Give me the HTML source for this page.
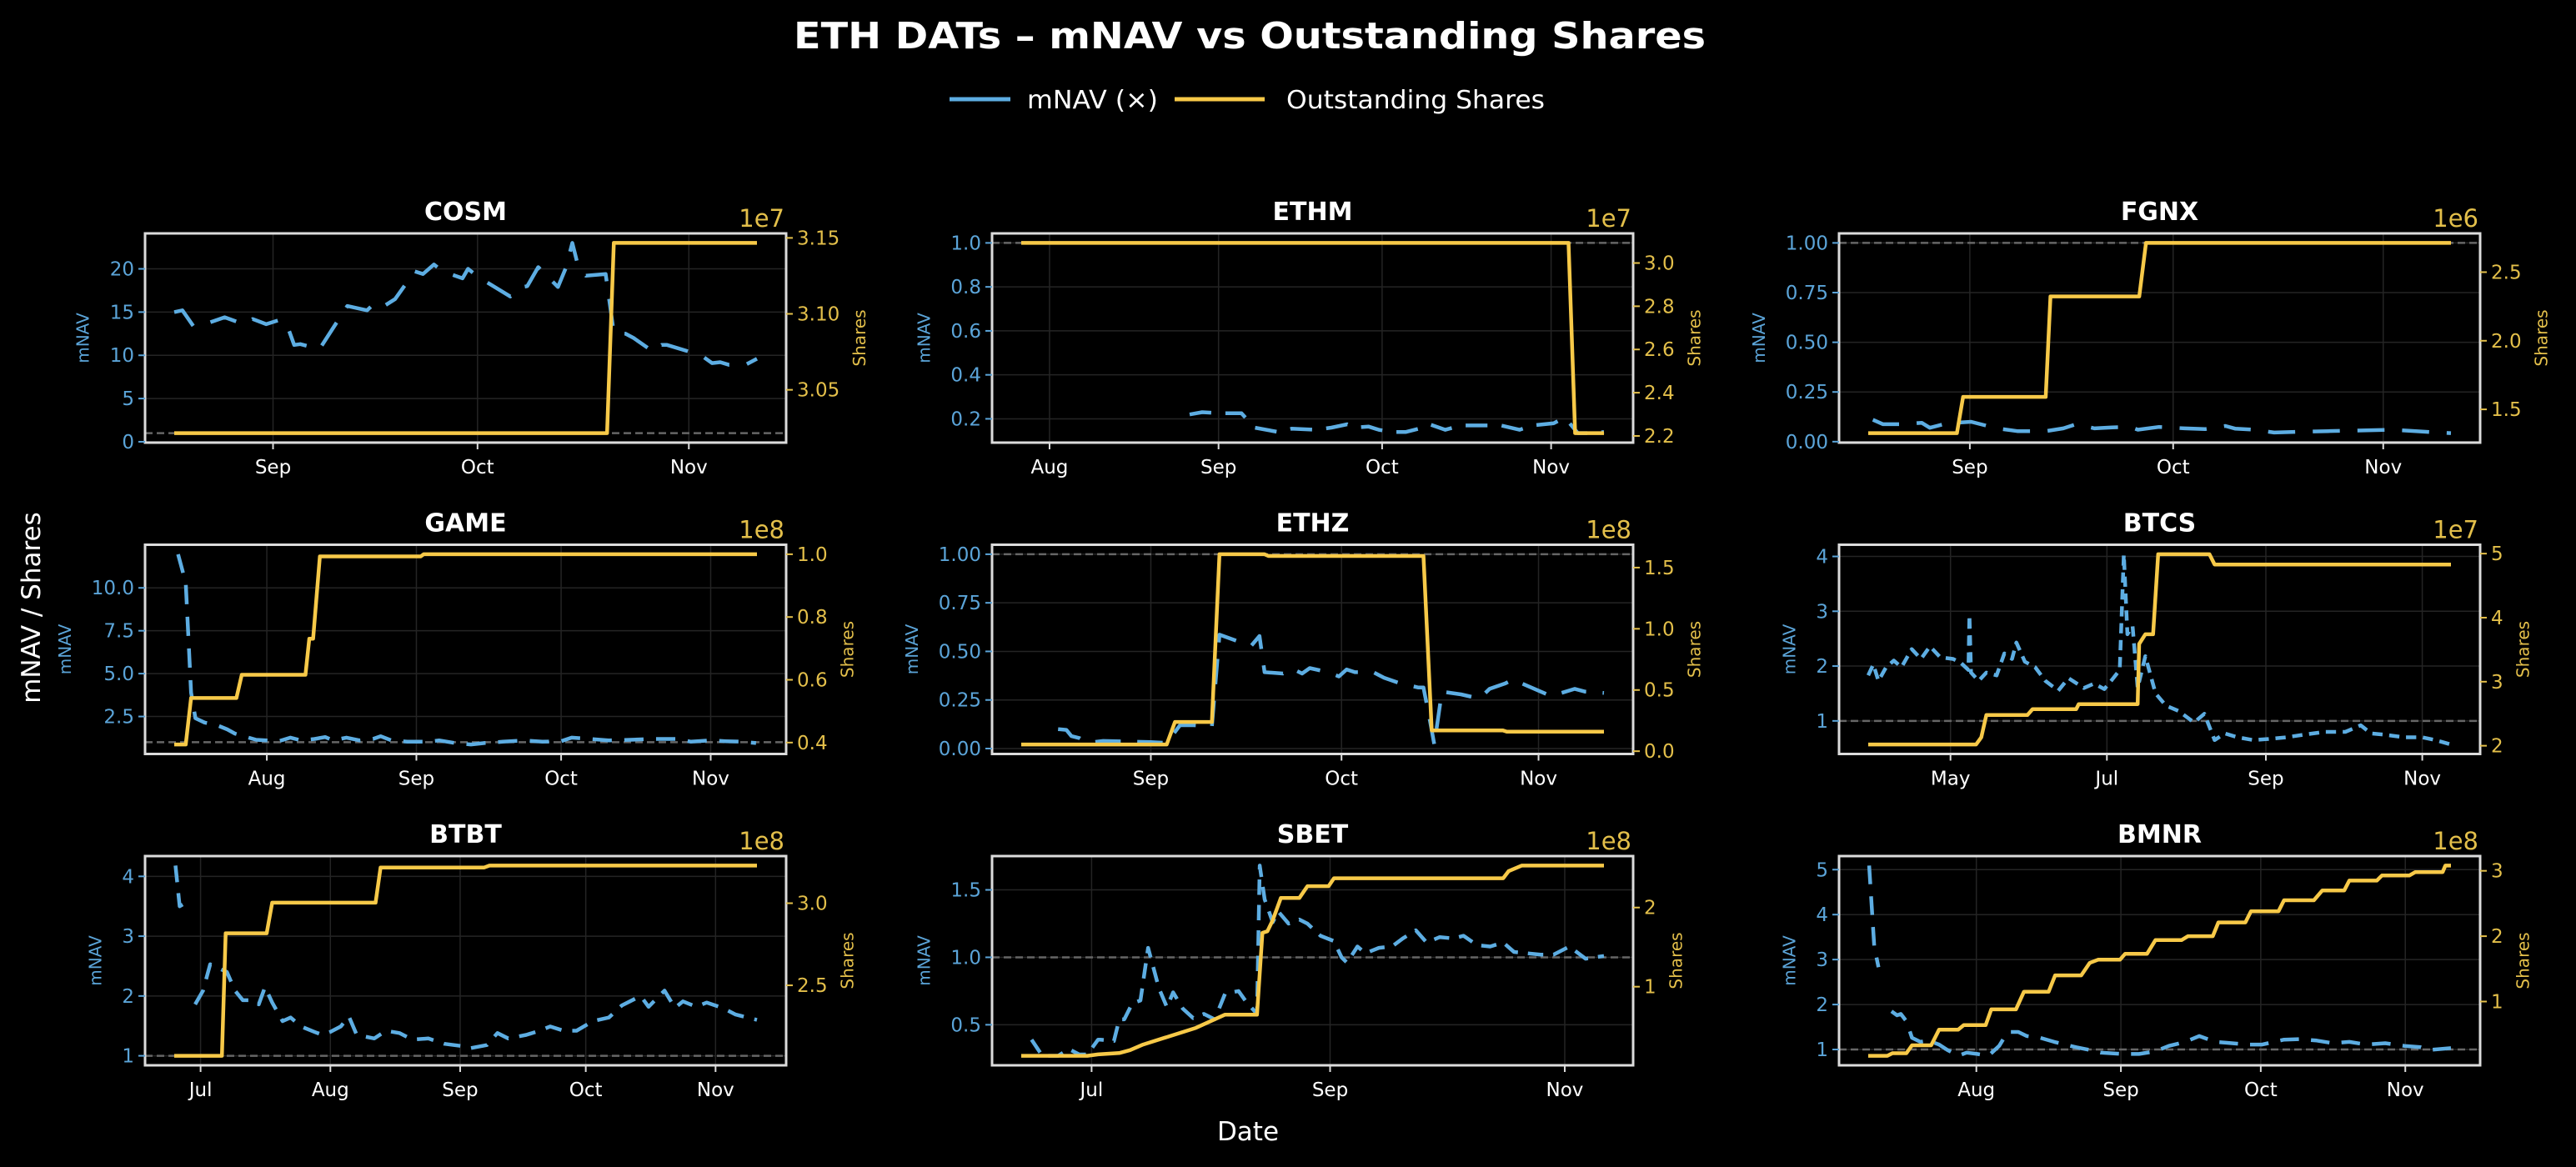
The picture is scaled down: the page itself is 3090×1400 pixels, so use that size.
<!DOCTYPE html>
<html><head><meta charset="utf-8"><title>ETH DATs – mNAV vs Outstanding Shares</title>
<style>
html,body{margin:0;padding:0;background:#000;}
svg{display:block;font-family:"DejaVu Sans","Liberation Sans",sans-serif;}
</style></head>
<body>
<svg id="chart" width="3090" height="1400" viewBox="0 0 3090 1400" xmlns="http://www.w3.org/2000/svg">
<rect x="0" y="0" width="3090" height="1400" fill="#000"/>
<text x="1499" y="58" fill="#fff" font-size="44" font-weight="bold" text-anchor="middle" textLength="1094" lengthAdjust="spacingAndGlyphs">ETH DATs – mNAV vs Outstanding Shares</text>
<g>
<line x1="1139" y1="119" x2="1212" y2="119" stroke="#5DADE2" stroke-width="5"/>
<text x="1232" y="130" fill="#fff" font-size="30" textLength="157" lengthAdjust="spacingAndGlyphs">mNAV (×)</text>
<line x1="1409" y1="119" x2="1517" y2="119" stroke="#F7C948" stroke-width="5"/>
<text x="1543" y="130" fill="#fff" font-size="30" textLength="310" lengthAdjust="spacingAndGlyphs">Outstanding Shares</text>
</g>
<text x="0" y="0" transform="translate(48,729) rotate(-90)" fill="#fff" font-size="31" text-anchor="middle">mNAV / Shares</text>
<text x="1497" y="1368" fill="#fff" font-size="31" text-anchor="middle">Date</text>
<g id="panels"></g>
</svg>
<script>
// ---- data (x = day of year 2025; null = gap in data) ----
const cosmDates=[229.5,230.7,232.3,234,236.9,239.7,241,243,245,246,247.1,248,250.8,254.9,257.8,259,260.3,261.9,264.8,266,267.6,268.9,271.8,272.6,274.2,275.9,278.8,280,281.3,282.9,285.8,287,287.9,288.7,289.9,292.8,294,295.7,296.9,299.8,301,301.8,306.8,308.4,309.6,310.9,313.3,315];
const cosmMnav=[15.0,15.2,13.4,13.6,14.4,13.6,14.2,13.6,14.1,13.6,11.2,11.3,10.7,15.7,15.2,16.1,15.7,16.5,19.7,19.4,20.5,19.7,18.9,20,19,18.2,16.8,17.8,18,20.2,17.9,20.2,23,20.5,19.2,19.4,12.6,12.5,12,10.4,11.2,11.2,10,9.1,9.2,8.9,8.9,9.6];
const cosmShareDates=[229.5,293,294,315];
const cosmShares=[3.0215,3.0215,3.1467,3.1467];

const ethmDates=[238.7,241,244.3,248.2,250.6,255,257.4,261.8,264.7,267.6,269,271.5,273.4,275.9,278.3,280.7,282.7,285.6,288.5,292.4,295.8,299.2,301.6,305.5,307,308.4,309.9,312.4,314.7];
const ethmMnav=[0.22,0.23,0.225,0.225,0.16,0.14,0.155,0.15,0.16,0.175,0.16,0.165,0.15,0.14,0.14,0.155,0.175,0.15,0.17,0.17,0.17,0.15,0.17,0.18,0.2,0.18,0.135,0.135,0.14];
const ethmShareDates=[207.8,308.2,309.4,314.7];
const ethmShares=[3.093,3.093,2.213,2.213];

const fgnxDates=[229.7,231.2,233.9,236.9,238.1,240.7,244.2,248,251,255.2,257.8,259.7,262.4,265,267.7,268.8,271.9,275.7,278.7,281.7,283.2,285.9,288.9,292.7,296.9,301.1,306.4,309.8,312.9,315];
const fgnxMnav=[0.11,0.088,0.088,0.095,0.07,0.093,0.1,0.067,0.053,0.053,0.067,0.088,0.067,0.072,0.074,0.06,0.074,0.067,0.063,0.079,0.065,0.06,0.046,0.05,0.053,0.056,0.06,0.053,0.046,0.043];
const fgnxShareDates=[229,242.1,243,255.2,255.9,269,270,315];
const fgnxShares=[1.327,1.327,1.591,1.591,2.323,2.323,2.713,2.713];

const gameDates=[194.6,196.2,197.3,198.2,200.1,202.6,204.8,206.4,209.2,210.8,213,215.7,217.9,220.1,222.9,225.1,226.7,229.5,232.2,235,236.6,238.8,242.1,246.5,248.7,252,255.3,258.1,261.9,266.3,270.1,274,276.2,280,283.9,288.3,292.7,298.2,300.9,304.8,308.1,311.4,314.4];
const gameMnav=[11.96,10.3,3.9,2.4,2.15,2.0,1.75,1.5,1.27,1.14,1.11,1.08,1.27,1.11,1.19,1.3,1.11,1.27,1.11,1.19,1.35,1.11,1.03,1.03,1.11,0.95,0.87,0.95,1.03,1.11,1.03,1.06,1.27,1.19,1.11,1.14,1.19,1.19,1.03,1.11,1.06,1.03,0.95];
const gameShareDates=[193.8,196.2,197.3,206.7,207.8,221,221.8,222.6,224,244.9,245.5,314.6];
const gameShares=[0.394,0.394,0.542,0.542,0.616,0.616,0.731,0.731,0.993,0.993,1.0,1.0];

const ethzDates=[229.4,230.7,231.5,232.8,234,236.5,240.7,244,246.5,248.6,250.7,253.6,254.8,257.3,259.8,261.1,261.9,264.8,266.1,267.8,269,271.9,273.6,274.8,276.1,279,280.7,283.2,286.1,286.9,287.8,288.6,289.8,292.8,295.7,297.3,299.8,301.1,302.3,306.9,308.6,310.7,312.3,315.3];
const ethzMnav=[0.1,0.096,0.064,0.053,0.029,0.039,0.036,0.033,0.029,0.12,0.12,0.114,0.586,0.557,0.529,0.579,0.393,0.386,0.414,0.386,0.414,0.393,0.371,0.407,0.393,0.393,0.364,0.336,0.314,0.314,0.164,0.021,0.293,0.279,0.257,0.307,0.336,0.357,0.336,0.271,0.286,0.307,0.293,0.286];
const ethzShareDates=[223.6,246.5,247.8,253.6,254.8,261.9,262.5,286.9,288.2,299.4,300,315.3];
const ethzShares=[0.055,0.055,0.239,0.239,1.609,1.609,1.595,1.595,0.17,0.17,0.159,0.159];

const btcsDates=[88.9,90.9,92.9,95.9,98.9,101.9,105.9,109.5,113,117,122,125,128,128.4,129,132,135,139,142,145,146.7,150,154,158,163,167,173,177,181,184,187,188.6,190,192,194,197,201,205,210,216,220,224,228,233,239,245,252,259,267,275,281,285,290,298,305,310,316.2];
const btcsMnav=[1.83,2.03,1.73,1.98,2.1,1.98,2.31,2.13,2.36,2.16,2.13,2.06,1.93,2.93,1.88,1.73,1.88,1.83,2.23,2.13,2.43,2.08,1.98,1.73,1.55,1.78,1.6,1.68,1.58,1.75,1.93,4.04,2.58,2.73,1.6,2.18,1.5,1.28,1.18,0.97,1.13,0.65,0.77,0.7,0.65,0.67,0.7,0.75,0.8,0.8,0.92,0.77,0.75,0.7,0.7,0.65,0.57];
const btcsShareDates=[88.9,131,133,135,151,153,170,171,194,194.6,197,200,202,222,224,316.2];
const btcsShares=[2.02,2.02,2.13,2.48,2.48,2.57,2.57,2.65,2.65,3.59,3.74,3.74,4.99,4.99,4.83,4.83];

const btbtDates=[176,177,178.2,179,180.7,182.6,184.3,188.3,190.2,192.1,194.7,195.9,197.4,199.1,201.6,203.5,206,209.2,211.1,213,215.5,217.4,219.3,223.5,226.3,229.5,232.6,236.4,240.2,244.7,246.6,250.4,252.9,255.5,259.8,263,265.5,268.7,271.8,275.7,279.5,282.6,287.1,289,292.8,295.3,297.2,300.4,302.9,306.7,309.8,314.9];
const btbtMnav=[4.18,3.5,3.55,null,1.86,2.09,2.53,2.4,2.09,1.93,1.93,1.86,2.15,1.89,1.58,1.64,1.49,1.4,1.35,1.4,1.49,1.66,1.35,1.29,1.42,1.38,1.27,1.29,1.2,1.16,1.13,1.18,1.38,1.29,1.35,1.42,1.49,1.42,1.42,1.58,1.64,1.84,2.0,1.82,2.09,1.8,1.91,1.82,1.89,1.8,1.69,1.6];
const btbtShareDates=[175.7,187.1,188,197.8,199.1,223.8,225,249.7,251,314.9];
const btbtShares=[2.071,2.071,2.817,2.817,3.003,3.003,3.217,3.217,3.229,3.229];

const sbetDates=[166.4,169.2,173.3,176.1,178.8,180.9,183.7,184.3,187.8,189.2,190.5,192.6,194.7,196.7,199.5,201.6,203.2,205.7,208.4,211.2,214,216.7,220.2,222.2,225,225.7,227,229.1,230.5,233.2,236,238.1,241.5,245,247,248.4,251.1,253.2,256.7,260.1,262.9,266.3,269.1,272.5,276,278.7,282.2,285.6,289,291.8,295.2,298.7,302.1,306.2,310.4,315.2];
const sbetMnav=[0.39,0.27,0.27,0.32,0.28,0.28,0.39,0.39,0.38,0.54,0.54,0.66,0.68,1.07,0.77,0.63,0.74,0.62,0.55,0.58,0.54,0.73,0.75,0.67,0.58,1.68,1.43,1.26,1.34,1.25,1.28,1.25,1.16,1.12,1.0,0.96,1.08,1.03,1.07,1.08,1.14,1.2,1.11,1.15,1.14,1.16,1.09,1.08,1.11,1.04,1.03,1.02,1.02,1.08,0.99,1.01];
const sbetShareDates=[163.7,180.9,183.7,189.2,192,195.4,201.6,209.1,216.7,225,226.4,227.7,229.1,231.2,236,238.1,243.6,245,289,290.4,293.8,315.2];
const sbetShares=[0.127,0.127,0.145,0.162,0.198,0.269,0.364,0.48,0.647,0.647,1.68,1.7,1.84,2.12,2.12,2.27,2.27,2.37,2.37,2.46,2.53,2.53];

const bmnrDates=[190,191.1,192,193,194.8,196,196.8,198,199.2,201,202.7,205,206.8,209.1,210.9,213.2,215.6,217.9,219.7,222,223.8,226.7,229.7,232,234.4,237.3,239.6,244.4,247.9,251.4,254.3,257.8,260.8,264.3,267.8,271.3,274.3,279,282.5,286,289.5,293,296.6,300.7,304.8,308.3,310.1,314.8];
const bmnrMnav=[5.09,3.3,2.83,null,1.85,1.76,1.79,1.63,1.26,1.17,1.2,1.11,0.99,0.86,0.93,0.9,0.86,1.08,1.39,1.39,1.3,1.26,1.17,1.11,1.05,0.99,0.93,0.9,0.9,0.96,1.08,1.17,1.3,1.17,1.14,1.11,1.11,1.22,1.23,1.2,1.14,1.17,1.11,1.14,1.08,1.05,0.99,1.03];
const bmnrShareDates=[189.8,193.9,195,198,199.2,203.3,205,209.1,210.3,215,216.2,221.5,223.2,228.5,229.9,235.5,237.3,239.1,243.8,244.9,249.6,251.4,257,258.4,263.7,264.9,270.7,271.9,277.8,279,285.4,287.2,291.9,293,298.9,300,305.9,307.1,313,313.6,314.8];
const bmnrShares=[0.17,0.17,0.21,0.21,0.33,0.33,0.57,0.57,0.64,0.64,0.88,0.88,1.15,1.15,1.40,1.40,1.59,1.64,1.64,1.73,1.73,1.94,1.94,2.0,2.0,2.21,2.21,2.38,2.38,2.55,2.55,2.70,2.70,2.85,2.85,2.93,2.93,2.98,2.98,3.08,3.08];

// ---- ticks ----
const monthDays={Apr:91,May:121,Jun:152,Jul:182,Aug:213,Sep:244,Oct:274,Nov:305};
const cosmXTicks=['Sep','Oct','Nov'], cosmYTicks=[0,5,10,15,20], cosmYLabels=['0','5','10','15','20'], cosmRTicks=[3.05,3.10,3.15], cosmRLabels=['3.05','3.10','3.15'];
const ethmXTicks=['Aug','Sep','Oct','Nov'], ethmYTicks=[0.2,0.4,0.6,0.8,1.0], ethmYLabels=['0.2','0.4','0.6','0.8','1.0'], ethmRTicks=[2.2,2.4,2.6,2.8,3.0], ethmRLabels=['2.2','2.4','2.6','2.8','3.0'];
const fgnxXTicks=['Sep','Oct','Nov'], fgnxYTicks=[0,0.25,0.5,0.75,1.0], fgnxYLabels=['0.00','0.25','0.50','0.75','1.00'], fgnxRTicks=[1.5,2.0,2.5], fgnxRLabels=['1.5','2.0','2.5'];
const gameXTicks=['Aug','Sep','Oct','Nov'], gameYTicks=[2.5,5,7.5,10], gameYLabels=['2.5','5.0','7.5','10.0'], gameRTicks=[0.4,0.6,0.8,1.0], gameRLabels=['0.4','0.6','0.8','1.0'];
const ethzXTicks=['Sep','Oct','Nov'], ethzYTicks=[0,0.25,0.5,0.75,1.0], ethzYLabels=['0.00','0.25','0.50','0.75','1.00'], ethzRTicks=[0,0.5,1.0,1.5], ethzRLabels=['0.0','0.5','1.0','1.5'];
const btcsXTicks=['May','Jul','Sep','Nov'], btcsYTicks=[1,2,3,4], btcsYLabels=['1','2','3','4'], btcsRTicks=[2,3,4,5], btcsRLabels=['2','3','4','5'];
const btbtXTicks=['Jul','Aug','Sep','Oct','Nov'], btbtYTicks=[1,2,3,4], btbtYLabels=['1','2','3','4'], btbtRTicks=[2.5,3.0], btbtRLabels=['2.5','3.0'];
const sbetXTicks=['Jul','Sep','Nov'], sbetYTicks=[0.5,1.0,1.5], sbetYLabels=['0.5','1.0','1.5'], sbetRTicks=[1,2], sbetRLabels=['1','2'];
const bmnrXTicks=['Aug','Sep','Oct','Nov'], bmnrYTicks=[1,2,3,4,5], bmnrYLabels=['1','2','3','4','5'], bmnrRTicks=[1,2,3], bmnrRLabels=['1','2','3'];

const panels=[
 {name:'COSM',d:cosmDates,m:cosmMnav,sd:cosmShareDates,s:cosmShares,xt:cosmXTicks,yt:cosmYTicks,yl:cosmYLabels,rt:cosmRTicks,rl:cosmRLabels,off:'1e7'},
 {name:'ETHM',d:ethmDates,m:ethmMnav,sd:ethmShareDates,s:ethmShares,xt:ethmXTicks,yt:ethmYTicks,yl:ethmYLabels,rt:ethmRTicks,rl:ethmRLabels,off:'1e7'},
 {name:'FGNX',d:fgnxDates,m:fgnxMnav,sd:fgnxShareDates,s:fgnxShares,xt:fgnxXTicks,yt:fgnxYTicks,yl:fgnxYLabels,rt:fgnxRTicks,rl:fgnxRLabels,off:'1e6'},
 {name:'GAME',d:gameDates,m:gameMnav,sd:gameShareDates,s:gameShares,xt:gameXTicks,yt:gameYTicks,yl:gameYLabels,rt:gameRTicks,rl:gameRLabels,off:'1e8'},
 {name:'ETHZ',d:ethzDates,m:ethzMnav,sd:ethzShareDates,s:ethzShares,xt:ethzXTicks,yt:ethzYTicks,yl:ethzYLabels,rt:ethzRTicks,rl:ethzRLabels,off:'1e8'},
 {name:'BTCS',d:btcsDates,m:btcsMnav,sd:btcsShareDates,s:btcsShares,xt:btcsXTicks,yt:btcsYTicks,yl:btcsYLabels,rt:btcsRTicks,rl:btcsRLabels,off:'1e7'},
 {name:'BTBT',d:btbtDates,m:btbtMnav,sd:btbtShareDates,s:btbtShares,xt:btbtXTicks,yt:btbtYTicks,yl:btbtYLabels,rt:btbtRTicks,rl:btbtRLabels,off:'1e8'},
 {name:'SBET',d:sbetDates,m:sbetMnav,sd:sbetShareDates,s:sbetShares,xt:sbetXTicks,yt:sbetYTicks,yl:sbetYLabels,rt:sbetRTicks,rl:sbetRLabels,off:'1e8'},
 {name:'BMNR',d:bmnrDates,m:bmnrMnav,sd:bmnrShareDates,s:bmnrShares,xt:bmnrXTicks,yt:bmnrYTicks,yl:bmnrYLabels,rt:bmnrRTicks,rl:bmnrRLabels,off:'1e8'}
];

const NS='http://www.w3.org/2000/svg';
const BLUE='#5DADE2', YEL='#F7C948', BLUE_T='#5BA4D8', YEL_T='#E3BF4A';
const colX=[174,1190,2206], rowY=[280,653.5,1027], PW=769, PH=251;
function mk(tag,attrs,parent){const e=document.createElementNS(NS,tag);for(const k in attrs)e.setAttribute(k,attrs[k]);parent.appendChild(e);return e;}
function pad(lo,hi){const r=hi-lo;return [lo-r*0.05,hi+r*0.05];}
const root=document.getElementById('panels');

panels.forEach((p,i)=>{
 const x0=colX[i%3], y0=rowY[Math.floor(i/3)], key=p.name.toLowerCase();
 const mv=p.m.filter(v=>v!==null);
 const allD=p.d.concat(p.sd);
 const [xmin,xmax]=pad(Math.min(...allD),Math.max(...allD));
 const [ymin,ymax]=pad(Math.min(1,...mv),Math.max(1,...mv));
 const [smin,smax]=pad(Math.min(...p.s),Math.max(...p.s));
 const X=v=>x0+(v-xmin)/(xmax-xmin)*PW;
 const Y=v=>y0+PH-(v-ymin)/(ymax-ymin)*PH;
 const S=v=>y0+PH-(v-smin)/(smax-smin)*PH;
 const g=mk('g',{},root);
 
 
 p.xt.forEach(t=>{const gx=X(monthDays[t]);const l=mk('line',{x1:gx,x2:gx,y1:y0,y2:y0+PH,stroke:'#242424','stroke-width':1.5},g);
  });
 p.yt.forEach(t=>{const gy=Y(t);const l=mk('line',{x1:x0,x2:x0+PW,y1:gy,y2:gy,stroke:'#242424','stroke-width':1.5},g);
  });
 const ref=mk('line',{x1:x0,x2:x0+PW,y1:Y(1),y2:Y(1),stroke:'#666','stroke-width':2.5,'stroke-dasharray':'9 5'},g);
 
 // mNAV segments (split at nulls)
 const ppd=PW/(xmax-xmin);
 let segs=[[]];
 p.d.forEach((d,j)=>{if(p.m[j]===null){segs.push([]);}else segs[segs.length-1].push(X(d).toFixed(1)+','+Y(p.m[j]).toFixed(1));});
 segs.filter(s=>s.length>1).forEach(s=>{
  const mp=mk('polyline',{points:s.join(' '),fill:'none',stroke:BLUE,'stroke-width':4.5,'stroke-linejoin':'round','stroke-dasharray':(4*ppd).toFixed(1)+' '+(2.6*ppd).toFixed(1)},g);
  });
 const sp=mk('polyline',{points:p.sd.map((d,j)=>X(d).toFixed(1)+','+S(p.s[j]).toFixed(1)).join(' '),fill:'none',stroke:YEL,'stroke-width':4.5,'stroke-linejoin':'round'},g);
 
 const fr=mk('rect',{x:x0,y:y0,width:PW,height:PH,fill:'none',stroke:'#dcdcdc','stroke-width':3},g);
 
 p.xt.forEach(t=>{const tx=X(monthDays[t]);
  const l=mk('line',{x1:tx,x2:tx,y1:y0+PH,y2:y0+PH+8,stroke:'#dcdcdc','stroke-width':2},g);
  
  const tt=mk('text',{x:tx,y:y0+PH+37,fill:'#fff','font-size':23,'text-anchor':'middle'},g);tt.textContent=t;
  });
 let maxL=0;
 p.yt.forEach((t,j)=>{const ty=Y(t);
  const l=mk('line',{x1:x0-8,x2:x0,y1:ty,y2:ty,stroke:BLUE_T,'stroke-width':2},g);
  
  const tt=mk('text',{x:x0-13,y:ty+8,fill:BLUE_T,'font-size':23,'text-anchor':'end'},g);tt.textContent=p.yl[j];
  
  maxL=Math.max(maxL,tt.getComputedTextLength());});
 let maxR=0;
 p.rt.forEach((t,j)=>{const ty=S(t);
  const l=mk('line',{x1:x0+PW,x2:x0+PW+8,y1:ty,y2:ty,stroke:YEL_T,'stroke-width':2},g);
  
  const tt=mk('text',{x:x0+PW+13,y:ty+8,fill:YEL_T,'font-size':23},g);tt.textContent=p.rl[j];
  
  maxR=Math.max(maxR,tt.getComputedTextLength());});
 const lx=x0-18-maxL-20, rx=x0+PW+18+maxR+26, cy=y0+PH/2;
 const yl=mk('text',{transform:`translate(${lx},${cy}) rotate(-90)`,fill:BLUE_T,'font-size':20,'text-anchor':'middle'},g);yl.textContent='mNAV';
 
 const rl=mk('text',{transform:`translate(${rx},${cy}) rotate(-90)`,fill:YEL_T,'font-size':20,'text-anchor':'middle'},g);rl.textContent='Shares';
 
 const ti=mk('text',{x:x0+PW/2,y:y0-16,fill:'#fff','font-size':30,'font-weight':'bold','text-anchor':'middle'},g);ti.textContent=p.name;
 
 const of=mk('text',{x:x0+PW-2,y:y0-8,fill:YEL_T,'font-size':29,'text-anchor':'end'},g);of.textContent=p.off;
 
});
</script>
</body></html>
